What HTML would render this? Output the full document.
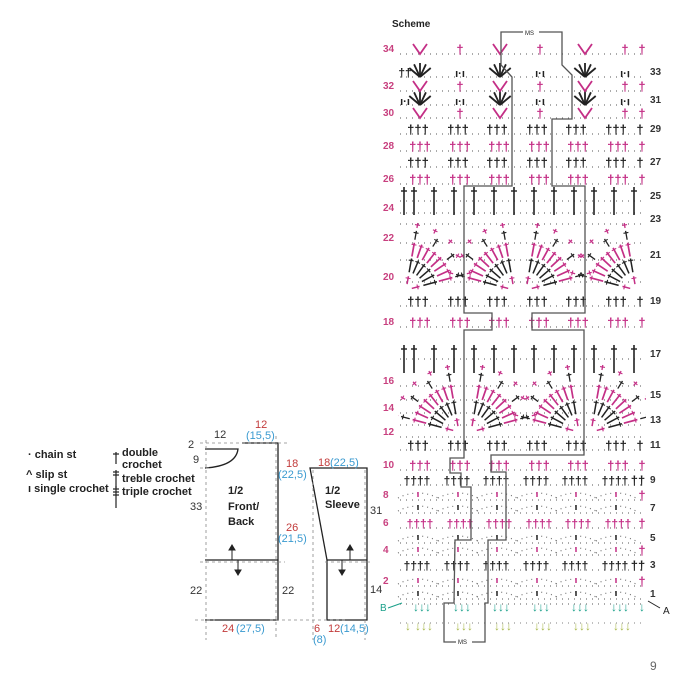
<!DOCTYPE html>
<html><head><meta charset="utf-8"><style>
html,body{margin:0;padding:0;background:#fff;width:690px;height:677px;overflow:hidden}
svg{display:block}
text{font-family:"Liberation Sans","DejaVu Sans",sans-serif}
</style></head><body>
<svg id="s" width="690" height="677" viewBox="0 0 690 677" xmlns="http://www.w3.org/2000/svg">
<defs><clipPath id="cp"><rect x="398" y="0" width="248" height="677"/></clipPath></defs>
<rect width="690" height="677" fill="#fff"/>
<g font-size="11" font-weight="bold" fill="#222">
<text x="28" y="458">· chain st</text>
<text x="26" y="478">^ slip st</text>
<text x="28" y="492">ı single crochet</text>
<text x="122" y="456">double</text>
<text x="122" y="468">crochet</text>
<text x="122" y="482">treble crochet</text>
<text x="122" y="495">triple crochet</text>
</g>
<g stroke="#222" stroke-width="1.2">
<line x1="116" y1="452" x2="116" y2="464"/><line x1="113" y1="454" x2="119" y2="454"/>
<line x1="116" y1="470" x2="116" y2="488"/><line x1="113" y1="472" x2="119" y2="472"/><line x1="113" y1="475" x2="119" y2="475"/>
<line x1="116" y1="486" x2="116" y2="508"/><line x1="113" y1="489" x2="119" y2="489"/><line x1="113" y1="492" x2="119" y2="492"/><line x1="113" y1="495" x2="119" y2="495"/>
</g>
<g stroke="#222" stroke-width="1.3" fill="none">
<path d="M205 449 L238 449 Q236 466 205 468"/>
<path d="M242 443 L278 443 L278 620 L205 620"/>
<path d="M310 468 L367 468 L367 620 L327 620 L327 560 Z"/>
<line x1="205" y1="560" x2="278" y2="560"/>
<line x1="327" y1="560" x2="367" y2="560"/>
</g>
<g stroke="#888" stroke-width="0.8" stroke-dasharray="3,3" fill="none">
<line x1="206" y1="440" x2="206" y2="640"/><line x1="276" y1="436" x2="276" y2="640"/>
<line x1="200" y1="562" x2="285" y2="562"/><line x1="325" y1="562" x2="372" y2="562"/>
<line x1="313" y1="470" x2="313" y2="640"/><line x1="365" y1="470" x2="365" y2="640"/>
<line x1="200" y1="468" x2="210" y2="468"/><line x1="200" y1="443" x2="290" y2="443"/>
<line x1="195" y1="620" x2="215" y2="620"/><line x1="270" y1="620" x2="345" y2="620"/>
</g>
<g stroke="#222" stroke-width="1" fill="#222">
<line x1="232" y1="560" x2="232" y2="548"/><path d="M229 550 L232 545 L235 550Z"/>
<line x1="238" y1="560" x2="238" y2="572"/><path d="M235 570 L238 575 L241 570Z"/>
<line x1="350" y1="560" x2="350" y2="548"/><path d="M347 550 L350 545 L353 550Z"/>
<line x1="342" y1="560" x2="342" y2="572"/><path d="M339 570 L342 575 L345 570Z"/>
</g>
<g font-size="11" fill="#333">
<text x="214" y="438">12</text>
<text x="255" y="428" fill="#c23b3b">12</text><text x="246" y="439" fill="#3a9ad0">(15,5)</text>
<text x="188" y="448">2</text><text x="193" y="463">9</text>
<text x="190" y="510">33</text><text x="190" y="594">22</text><text x="282" y="594">22</text>
<text x="286" y="467" fill="#c23b3b">18</text><text x="278" y="478" fill="#3a9ad0">(22,5)</text>
<text x="286" y="531" fill="#c23b3b">26</text><text x="278" y="542" fill="#3a9ad0">(21,5)</text>
<text x="222" y="632" fill="#c23b3b">24</text><text x="236" y="632" fill="#3a9ad0">(27,5)</text>
<text x="318" y="466" fill="#c23b3b">18</text><text x="330" y="466" fill="#3a9ad0">(22,5)</text>
<text x="370" y="514">31</text><text x="370" y="593">14</text>
<text x="314" y="632" fill="#c23b3b">6</text><text x="313" y="643" fill="#3a9ad0">(8)</text>
<text x="328" y="632" fill="#c23b3b">12</text><text x="340" y="632" fill="#3a9ad0">(14,5)</text>
</g>
<g font-size="11" font-weight="bold" fill="#222">
<text x="228" y="494">1/2</text><text x="228" y="510">Front/</text><text x="228" y="525">Back</text>
<text x="325" y="494">1/2</text><text x="325" y="508">Sleeve</text>
</g>
<text x="392" y="27" font-size="10" font-weight="bold" fill="#222">Scheme</text>
<text x="650" y="670" font-size="12" fill="#666">9</text>
<g id="chart"></g>
<g id="fans" clip-path="url(#cp)"></g>
<path d="M501 32 L562 32 L562 65 L572 75 L572 119 L552 119 L552 186 L585 186 L585 313 L532 313 L532 330 L584 330 L584 455 L491 455 L491 472 L506 472 L506 540 L488 540 L488 603 L485 603 L485 642 L444 642 L444 603 L454 603 L455 540 L471 540 L471 487 L461 487 L461 473 L450 473 L450 458 L464 458 L464 330 L492 330 L492 313 L464 313 L464 186 L512 186 L512 77 L501 65 Z" fill="none" stroke="#555" stroke-width="1.3"/>
<rect x="523" y="29" width="16" height="7" fill="#fff"/><text x="525" y="35" font-size="6" fill="#222">MS</text>
<rect x="456" y="638" width="16" height="7" fill="#fff"/><text x="458" y="644" font-size="6" fill="#222">MS</text>
<text x="380" y="611" font-size="10" fill="#1aa08a">B</text>
<line x1="388" y1="608" x2="402" y2="603" stroke="#1aa08a" stroke-width="1"/>
<text x="663" y="614" font-size="10" fill="#222">A</text>
<line x1="660" y1="608" x2="648" y2="601" stroke="#222" stroke-width="1"/>
</svg>
<script>
var P="#c42f86",K="#222",ns="http://www.w3.org/2000/svg",g=document.getElementById("chart"),F=document.getElementById("fans");
function el(t,a,txt,par){var e=document.createElementNS(ns,t);for(var k in a)e.setAttribute(k,a[k]);if(txt)e.textContent=txt;(par||g).appendChild(e);return e;}
var Y={1:593,2:580,3:564,4:549,5:537,6:522,7:507,8:494,9:479,10:464,11:444,12:431,13:419,14:407,15:394,16:380,17:353,18:321,19:300,20:276,21:254,22:237,23:218,24:207,25:195,26:178,27:161,28:145,29:128,30:112,31:99,32:85,33:71,34:48};
var X0=400,X1=642;
for(var r=1;r<=34;r++){var y=Y[r];
 el("line",{x1:X0,y1:y+6,x2:X1,y2:y+6,stroke:"#777","stroke-width":1.2,"stroke-dasharray":"1,5"});
 var even=r%2==0;
 el("text",{x:even?383:650,y:y+4,"font-size":10,"font-weight":"bold",fill:even?"#c8407f":"#333"},String(r));
}
function grp(x,y,s,c,fs){el("text",{x:x,y:y,"font-size":fs||13,fill:c,"text-anchor":"middle","font-weight":"bold"},s);}
var cols=[412,452,491,531,570,610];
[29,27].forEach(function(r){cols.forEach(function(x){grp(x+6,Y[r]+6,"†††",K)});grp(640,Y[r]+6,"†",K);});
[28,26,18].forEach(function(r){cols.forEach(function(x){grp(x+8,Y[r]+6,"†††",P)});grp(642,Y[r]+6,"†",P);});
[19,11].forEach(function(r){cols.forEach(function(x){grp(x+6,Y[r]+6,"†††",K)});grp(640,Y[r]+6,"†",K);});
[10].forEach(function(r){cols.forEach(function(x){grp(x+8,Y[r]+6,"†††",P)});grp(642,Y[r]+6,"†",P);});
[9,3].forEach(function(r){cols.forEach(function(x){grp(x+5,Y[r]+6,"††††",K,12)});grp(638,Y[r]+6,"††",K);});
[6].forEach(function(r){cols.forEach(function(x){grp(x+8,Y[r]+6,"††††",P,12)});grp(642,Y[r]+6,"†",P);});
[8,7,5,4,2,1].forEach(function(r){var c=(r%2==0)?P:K;cols.forEach(function(x){
 el("path",{d:"M"+(x-14)+" "+(Y[r]+4)+" Q"+(x+6)+" "+(Y[r]-6)+" "+(x+26)+" "+(Y[r]+4),fill:"none",stroke:"#777","stroke-width":1.2,"stroke-dasharray":"1,4"});
 el("line",{x1:x+6,y1:Y[r]-2,x2:x+6,y2:Y[r]+3,stroke:c,"stroke-width":1.5});});
 if(r%2==0)grp(642,Y[r]+6,"†",P);});
cols.forEach(function(x){grp(x+10,611,"↓↓↓","#1aa08a",12);grp(x+12,630,"↓↓↓","#a8b84a",12);});
grp(642,611,"↓","#1aa08a",12);grp(408,630,"↓","#a8b84a",12);
el("line",{x1:X0,y1:604,x2:X1,y2:604,stroke:"#777","stroke-width":1.2,"stroke-dasharray":"1,5"});
el("line",{x1:X0,y1:623,x2:X1,y2:623,stroke:"#999","stroke-width":1.2,"stroke-dasharray":"1,5"});
[25,17].forEach(function(r){[404,414,434,454,474,494,514,534,554,574,594,614,634].forEach(function(x){
 el("line",{x1:x,y1:Y[r]-8,x2:x,y2:Y[r]+20,stroke:K,"stroke-width":1.6});el("line",{x1:x-3,y1:Y[r]-4,x2:x+3,y2:Y[r]-4,stroke:K,"stroke-width":1.4});});});
function fan(cx,cy,a0,a1){
 function band(r1,r2,c,n,w){for(var i=0;i<n;i++){var a=(a0+(a1-a0)*i/(n-1))*Math.PI/180;var ca=Math.cos(a),sa=-Math.sin(a);
  el("line",{x1:cx+r1*ca,y1:cy+r1*sa,x2:cx+r2*ca,y2:cy+r2*sa,stroke:c,"stroke-width":w},null,F);
  el("line",{x1:cx+(r2-2)*ca-2.5*sa,y1:cy+(r2-2)*sa+2.5*ca,x2:cx+(r2-2)*ca+2.5*sa,y2:cy+(r2-2)*sa-2.5*ca,stroke:c,"stroke-width":1.1},null,F);}}
 band(6,14,P,2,1.5);band(18,32,K,6,1.5);band(34,48,P,8,1.7);band(51,60,K,4,1.3);band(63,68,P,5,1.3);
}
function pair(cx,cy){fan(cx-6,cy,100,165);fan(cx+6,cy,15,80);}
pair(520,290);pair(400,290);pair(642,290);
pair(465,432);pair(585,432);
[[31,420],[31,500],[31,585],[33,420],[33,500],[33,585]].forEach(function(o){var r=o[0],x=o[1];
 for(var i=0;i<5;i++){var a=(40+25*i)*Math.PI/180;el("line",{x1:x,y1:Y[r]+6,x2:x+14*Math.cos(a),y2:Y[r]+6-14*Math.sin(a),stroke:K,"stroke-width":1.8});}
 grp(x+40,Y[r]+6,"ı·ı",K,11);});
grp(405,Y[33]+6,"††",K,12);grp(405,Y[31]+6,"ı·ı",K,11);
[34,32,30].forEach(function(r){[420,460,500,540,585,625].forEach(function(x,i){
 if(i%2==0){el("path",{d:"M"+(x-7)+" "+(Y[r]-4)+" L"+x+" "+(Y[r]+6)+" L"+(x+7)+" "+(Y[r]-4),fill:"none",stroke:P,"stroke-width":1.8});}
 else grp(x,Y[r]+6,"†",P,13);});grp(642,Y[r]+6,"†",P,13);});
</script>
</body></html>
